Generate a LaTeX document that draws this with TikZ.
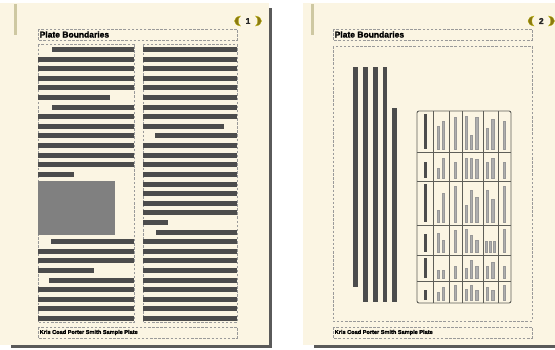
\documentclass[tikz,border=0pt]{standalone}
\usepackage{fontspec}
\setmainfont{Liberation Sans}
\newfontfamily\heavyfont{Liberation Sans Bold}[FakeBold=1.6]
\begin{document}
\begin{tikzpicture}[x=1pt,y=-1pt]
\definecolor{cream}{HTML}{FBF5E3}
\definecolor{shadowc}{HTML}{5A5A5A}
\definecolor{barc}{HTML}{4C4C4C}
\definecolor{khaki}{HTML}{CEC8A2}
\definecolor{dashc}{HTML}{9A9A9A}
\definecolor{olivec}{HTML}{8A7A12}
\definecolor{cellbar}{HTML}{AEAEAE}
\definecolor{cellbard}{HTML}{989898}
\definecolor{gridc}{HTML}{5E5E58}
\tikzset{
  dbox/.style={draw=dashc, line width=0.8pt, dash pattern=on 2.5pt off 1.6pt},
  titletext/.style={anchor=west, inner sep=0pt, font=\heavyfont\fontsize{8.5}{9}\selectfont, text=black},
  foottext/.style={anchor=west, inner sep=0pt, font=\heavyfont\fontsize{5.6}{5.6}\selectfont, text=black},
  pnum/.style={inner sep=0pt, font=\heavyfont\fontsize{8.5}{8.5}\selectfont, text=black!85},
  bracketc/.style={fill=olivec, draw=olivec!60!yellow, line width=0.3pt}
}
\useasboundingbox (0,0) rectangle (555,349);
\fill[white] (0,0) rectangle (555,349);
% ---------- pages ----------
\fill[shadowc] (268.5,8) rectangle (272,348);
\fill[shadowc] (11,344.5) rectangle (272,348);
\fill[cream] (0,3) rectangle (269,345);
\fill[shadowc] (314,344.5) rectangle (555,348);
\fill[cream] (303,3) rectangle (555,345);
\fill[khaki] (14,4) rectangle (17,35);
\fill[khaki] (310.5,4) rectangle (313.5,35);
% ---------- page numbers ----------
\fill[bracketc] (240.5,16) .. controls (232.5,17) and (232.5,25) .. (240.5,26) .. controls (237.5,24) and (237.5,18) .. cycle;
\fill[bracketc] (255.5,16) .. controls (263.5,17) and (263.5,25) .. (255.5,26) .. controls (258.5,24) and (258.5,18) .. cycle;
\node[pnum] (n1) at (248,21) {1};
\fill[bracketc] (534,16) .. controls (526,17) and (526,25) .. (534,26) .. controls (531,24) and (531,18) .. cycle;
\fill[bracketc] (548.5,16) .. controls (556.5,17) and (556.5,25) .. (548.5,26) .. controls (551.5,24) and (551.5,18) .. cycle;
\node[pnum] (n2) at (541.3,21) {2};
% ---------- page 1 ----------
\draw[dbox] (38,29) rectangle (237,40);
\node[titletext] (t1) at (39.5,34.5) {Plate Boundaries};
\draw[dbox] (38,44.5) rectangle (134,322.5);
\draw[dbox] (143,44.5) rectangle (237,322.5);
\draw[dbox] (38,327) rectangle (237,338);
\node[foottext] (f1) at (39.5,332.5) {Kris Coad Porter Smith Sample Plate};
\foreach \i/\a/\b in {0/52/134,1/38/134,2/38/134,3/38/134,4/38/134,5/38/110,6/52/134,7/38/134,8/38/134,9/38/134,10/38/134,11/38/134,12/38/134,13/38/74,
  20/51/134,21/38/134,22/38/134,23/38/94,24/49/134,25/38/134,26/38/134,27/38/134,28/38/134}
  \fill[barc] (\a,47+\i*9.607) rectangle (\b,52+\i*9.607);
\foreach \i in {0,...,28}{
  \pgfmathsetmacro\a{\i==9 ? 155 : (\i==19 ? 156 : 143)}
  \pgfmathsetmacro\b{\i==8 ? 224 : (\i==18 ? 168 : 237)}
  \fill[barc] (\a,47+\i*9.607) rectangle (\b,52+\i*9.607);
}
\fill[black!50] (38,181) rectangle (115,235);
% ---------- page 2 ----------
\draw[dbox] (333,29) rectangle (532,40);
\node[titletext] (t2) at (334.5,34.5) {Plate Boundaries};
\draw[dbox] (333,46) rectangle (532,321);
\draw[dbox] (333,327) rectangle (532,338);
\node[foottext] (f2) at (334.5,332.5) {Kris Coad Porter Smith Sample Plate};
\foreach \x/\t/\b in {353/67/287,363/67/302,373/67/302,382.5/67/302,392/108/302}
  \fill[barc] (\x,\t) rectangle (\x+4.6,\b);
% table cells
\foreach \r/\t/\b/\d/\c in {
  1/111/152/1.0/{438/0.65,443/0.8,455/0.9,466/0.95,471/0.4,476.5/0.9,487/0.6,492.5/0.85,504/0.8},
  2/152/181/0.7/{438/0.45,443/0.85,455/0.7,466/0.85,471/0.85,476.5/0.8,487/0.7,492.5/0.85,504/0.7},
  3/181/225/1.0/{438/0.3,443/0.75,455/0.95,466/0.45,471/0.85,476.5/0.65,487/0.85,492.5/0.6,504/0.95},
  4/225/255/0.75/{438/0.8,443/0.5,455/0.9,466/0.95,471/0.7,476.5/0.5,486/0.45,490/0.45,494/0.45,504/0.95},
  5/255/281/1.0/{438/0.4,443/0.4,455/0.6,466/0.5,471/0.9,476.5/0.6,487/0.6,492.5/0.8,504/0.6},
  6/281/303/0.6/{438/0.5,443/0.8,455/0.9,466/0.7,471/0.9,476.5/0.6,487/0.8,492.5/0.6,504/0.9}}{
  \fill[barc] (424.2,\b-3) rectangle (427.2,\b-3-\d*\b+\d*\t+\d*6);
  \foreach \x/\h in \c
    \filldraw[fill=cellbar, draw=cellbard, line width=0.3pt] (\x-1.3,\b-3) rectangle (\x+1.3,\b-3-\h*\b+\h*\t+\h*6);
}
\draw[gridc, line width=0.9pt, rounded corners=2pt] (417,111) rectangle (511,303);
\foreach \x in {433,449,462,483,498}
  \draw[gridc, line width=0.9pt] (\x,111) -- (\x,303);
\foreach \y in {152,181,225,255,281}
  \draw[gridc, line width=0.9pt] (417,\y) -- (511,\y);
\end{tikzpicture}
\end{document}
